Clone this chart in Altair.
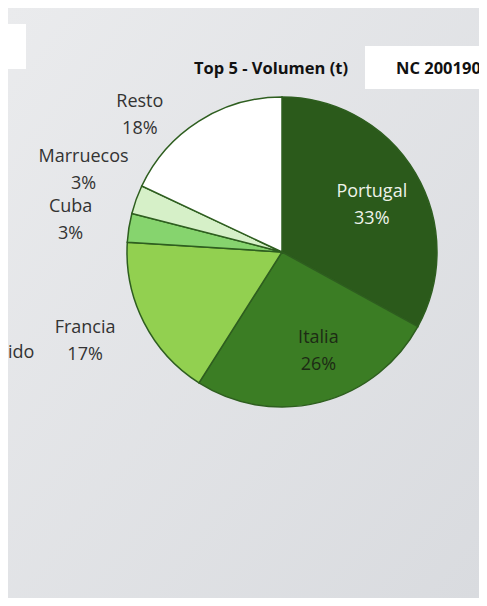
import altair as alt
import pandas as pd

paises = ["Portugal", "Italia", "Francia", "Cuba", "Marruecos", "Resto"]
valores = [33, 26, 17, 3, 3, 18]
colores = ["#2b5a1b", "#3b7d24", "#92d050", "#86d46e", "#d6f0c8", "#ffffff"]

titulo = "Top 5 - Volumen (t)"
codigo_nc = "NC 20019065"
texto_cortado = "ido"

df = pd.DataFrame({
    "pais": paises,
    "valor": valores,
    "idx": list(range(len(paises))),
    "etiqueta": [f"{p}\n{v}%" for p, v in zip(paises, valores)],
})

W, H = 471, 590
CX, CY = 274, 244
FONT = "Open Sans"
FS = 18

bg = alt.Chart(pd.DataFrame({"a": [0]})).mark_rect(
    color=alt.Gradient(
        gradient="linear",
        stops=[alt.GradientStop(color="#eaebed", offset=0),
               alt.GradientStop(color="#d9dbdf", offset=1)],
        x1=0, y1=0, x2=1, y2=1,
    )
).encode(x=alt.value(0), x2=alt.value(W), y=alt.value(0), y2=alt.value(H))

box_left = alt.Chart(pd.DataFrame({"a": [0]})).mark_rect(color="#ffffff").encode(
    x=alt.value(0), x2=alt.value(18), y=alt.value(16), y2=alt.value(61))
box_nc = alt.Chart(pd.DataFrame({"a": [0]})).mark_rect(color="#ffffff").encode(
    x=alt.value(357), x2=alt.value(W), y=alt.value(38), y2=alt.value(81))

title_txt = alt.Chart(pd.DataFrame({"t": [titulo]})).mark_text(
    font=FONT, fontSize=16.5, fontWeight="bold", color="#111111", align="center", baseline="middle"
).encode(text="t:N", x=alt.value(263), y=alt.value(61))
nc_txt = alt.Chart(pd.DataFrame({"t": [codigo_nc]})).mark_text(
    font=FONT, fontSize=16.5, fontWeight="bold", color="#111111", align="left", baseline="middle"
).encode(text="t:N", x=alt.value(388), y=alt.value(61))
cut_txt = alt.Chart(pd.DataFrame({"t": [texto_cortado]})).mark_text(
    font=FONT, fontSize=FS, color="#333333", align="left", baseline="middle"
).encode(text="t:N", x=alt.value(0), y=alt.value(345))

base = alt.Chart(df).encode(
    theta=alt.Theta("valor:Q", stack=True),
    order=alt.Order("idx:Q"),
)

pie = base.mark_arc(radius=155, stroke="#2e5e1f", strokeWidth=1.5).encode(
    color=alt.Color("pais:N", scale=alt.Scale(domain=paises, range=colores), legend=None),
    x=alt.value(CX), y=alt.value(CY),
)


def label_layer(name, radius, dx, dy, color):
    return base.mark_text(
        radius=radius, dx=dx, dy=dy, font=FONT, fontSize=FS, lineBreak="\n",
        lineHeight=27, align="center", baseline="middle", color=color,
    ).encode(
        text="etiqueta:N",
        x=alt.value(CX), y=alt.value(CY),
        opacity=alt.condition(alt.datum.pais == name, alt.value(1), alt.value(0)),
    )


labels = [
    label_layer("Portugal", 102, 2, -8, "#eef3ea"),
    label_layer("Italia", 102, 11, -13, "#1d2b15"),
    label_layer("Francia", 212, -8, -20, "#333333"),
    label_layer("Cuba", 212, -2, -12, "#333333"),
    label_layer("Marruecos", 212, 1, -23, "#333333"),
    label_layer("Resto", 200, -35, 19, "#333333"),
]

chart = alt.layer(bg, box_left, box_nc, title_txt, nc_txt, cut_txt, pie, *labels).properties(
    width=W, height=H, padding=0,
    autosize=alt.AutoSizeParams(type="none"),
).configure_view(stroke=None).configure(background="#e3e4e8")

chart.save("out.html", embed_options={"renderer": "svg", "actions": False})
